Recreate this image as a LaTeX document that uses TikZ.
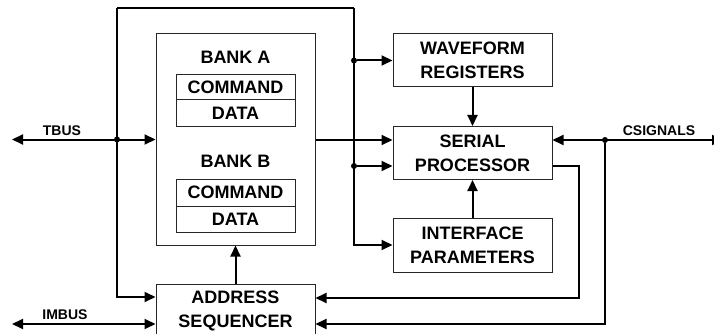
\documentclass[tikz,border=0pt]{standalone}
\usepackage{fontspec}
\setmainfont{Liberation Sans}
\usetikzlibrary{arrows.meta}
\begin{document}
\begin{tikzpicture}[x=1pt,y=-1pt,
 box/.style={draw=black!85,line width=1pt,minimum width=159pt,inner sep=0pt,
   font=\fontsize{18}{24}\selectfont\bfseries,align=center},
 txt/.style={font=\fontsize{18}{24}\selectfont\bfseries,inner sep=0pt},
 conn/.style={line width=2pt,-{Triangle[length=11pt,width=10pt]}},
 bidir/.style={line width=2pt,{Triangle[length=11pt,width=10pt]}-{Triangle[length=11pt,width=10pt]}},
 wire/.style={line width=2pt},
 dot/.style={circle,fill=black,inner sep=0pt,minimum size=6pt},
 lbl/.style={font=\fontsize{14}{16}\selectfont\bfseries,inner sep=0pt}]
\useasboundingbox (0,0) rectangle (714,334);
\clip (0,0) rectangle (714,334);
\fill[white] (0,0) rectangle (714,334);

% bank block
\node[box,minimum height=211pt] (bank) at (235.5,139.5) {};
\node[txt] (banka) at (235.5,57) {BANK A};
\node[box,minimum width=119pt,minimum height=25pt] (cmda) at (235.5,87.5) {COMMAND};
\node[box,minimum width=119pt,minimum height=26pt] (dataa) at (235.5,113) {DATA};
\node[txt] (bankb) at (235.5,161) {BANK B};
\node[box,minimum width=119pt,minimum height=27pt] (cmdb) at (235.5,192.5) {COMMAND};
\node[box,minimum width=119pt,minimum height=26pt] (datab) at (235.5,219) {DATA};

% right blocks
\node[box,minimum height=53pt] (wave) at (472.5,60.5) {WAVEFORM\\REGISTERS};
\node[box,minimum height=53pt] (serial) at (472.5,153) {SERIAL\\PROCESSOR};
\node[box,minimum height=54pt] (intf) at (472.5,245) {INTERFACE\\PARAMETERS};
\node[box,minimum height=54pt] (addr) at (235.5,311) {ADDRESS\\SEQUENCER};

% coordinates
\coordinate (tl) at (117,8);
\coordinate (tr) at (354,8);
\coordinate (tbusend) at (12,139.5);
\coordinate (imbusend) at (12,324);
\coordinate (csigend) at (723,140);
\coordinate (turn1) at (579,166);
\coordinate (turn2) at (605,324);

% TBUS and loop
\draw[bidir] (tbusend) -- (bank.west);
\node[dot] (j1) at (117,139.5) {};
\draw[conn] (tl) |- ([yshift=14pt]addr.west);
\draw[wire] (tl) -- (tr);
\draw[conn] (tr) |- (intf.west);
\node[dot] (j2) at (354,60.5) {};
\draw[conn] (j2) -- (wave.west);
\node[dot] (j3) at (354,166) {};
\draw[conn] (j3) -- ([yshift=-13pt]serial.west);
\draw[conn] ([yshift=13pt]serial.west -| bank.east) -- ([yshift=13pt]serial.west);

% vertical links
\draw[conn] (wave.south) -- (serial.north);
\draw[conn] (intf.north) -- (serial.south);
\draw[conn] (addr.north) -- (bank.south);

% CSIGNALS
\draw[bidir] ([yshift=13pt]serial.east) -- (csigend);
\node[dot] (j4) at (605,140) {};
\draw[conn] (j4) |- ([yshift=-13pt]addr.east);
\draw[conn] ([yshift=-13pt]serial.east) -- (turn1) |- ([yshift=13pt]addr.east);

% IMBUS
\draw[bidir] (imbusend) -- ([yshift=-13pt]addr.west);

% labels
\node[lbl] (ltbus) at (62,131) {TBUS};
\node[lbl] (lcsig) at (659,131) {CSIGNALS};
\node[lbl] (limbus) at (65,315) {IMBUS};
\end{tikzpicture}
\end{document}
